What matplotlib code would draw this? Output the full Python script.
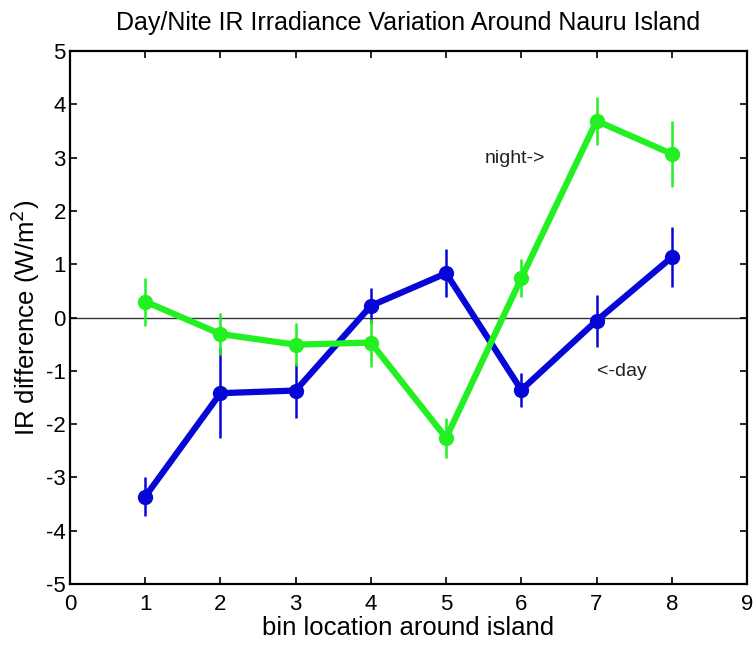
import numpy as np
import matplotlib.pyplot as plt

plt.rcParams['font.family'] = ['Liberation Sans', 'DejaVu Sans']
plt.rcParams['axes.unicode_minus'] = False

bins = [1, 2, 3, 4, 5, 6, 7, 8]
night = [0.30, -0.31, -0.51, -0.47, -2.26, 0.74, 3.69, 3.07]
night_err = [0.45, 0.40, 0.40, 0.45, 0.37, 0.35, 0.45, 0.62]
day = [-3.36, -1.42, -1.37, 0.22, 0.83, -1.36, -0.06, 1.13]
day_err = [0.37, 0.85, 0.52, 0.33, 0.45, 0.32, 0.49, 0.56]

green = '#22f022'
blue = '#0606d6'


def main():
    fig = plt.figure(figsize=(7.56, 6.46), dpi=100)
    ax = fig.add_axes([0.0926, 0.096, 0.8955, 0.825])

    ax.axhline(0, color='#333333', lw=1.0, zorder=1)

    ax.errorbar(bins, night, yerr=night_err, color=green, lw=4.5,
                marker='o', ms=10, elinewidth=1.8, capsize=0, zorder=3)
    ax.errorbar(bins, day, yerr=day_err, color=blue, lw=4.5,
                marker='o', ms=10, elinewidth=1.8, capsize=0, zorder=2)

    ax.text(5.51, 2.99, 'night->', fontsize=14, va='center', color='#222222')
    ax.text(7.01, -1.01, '<-day', fontsize=14, va='center', color='#222222')

    ax.set_xlim(0, 9)
    ax.set_ylim(-5, 5)
    ax.set_xticks(range(0, 10))
    ax.set_yticks(range(-5, 6))
    ax.tick_params(direction='in', top=True, right=True, labelsize=16,
                   length=5, width=1.2)
    ax.tick_params(axis='x', pad=7)
    ax.tick_params(axis='y', pad=3)
    for s in ax.spines.values():
        s.set_linewidth(1.6)

    ax.set_xlabel('bin location around island', fontsize=18.5, labelpad=1)
    ax.set_ylabel('IR difference (W/m$^2$)', fontsize=18.5, labelpad=3)
    ax.set_title('Day/Nite IR Irradiance Variation Around Nauru Island',
                 fontsize=18, pad=15)

    fig.savefig('out.png', dpi=100)


if __name__ == "__main__":
    main()
